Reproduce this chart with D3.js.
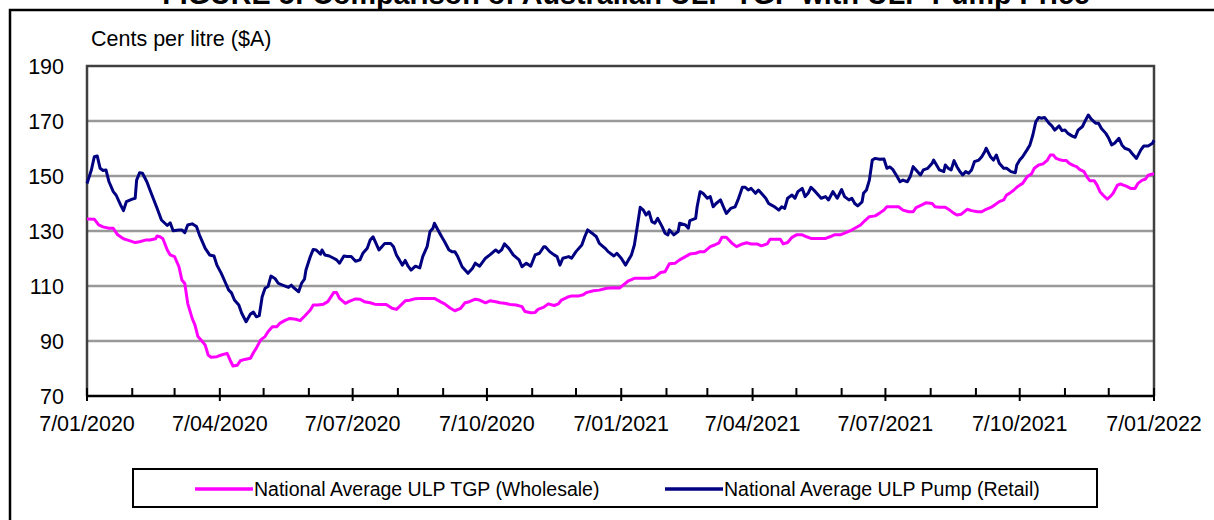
<!DOCTYPE html>
<html><head><meta charset="utf-8">
<script src="https://cdn.jsdelivr.net/npm/d3@7"></script>
<style>
body{margin:0;background:#fff;}
svg{display:block;font-family:Arial,"Liberation Sans",sans-serif;}
</style>
</head><body>
<svg id="chart" width="1214" height="520"></svg>
<script>
// ---------------- DATA ----------------
const titleText = "FIGURE 5: Comparison of Australian ULP TGP with ULP Pump Price";
const yAxisTitle = "Cents per litre ($A)";
const startDate = "2020-01-07";
const endDate = "2022-01-07";
const yTicks = [70, 90, 110, 130, 150, 170, 190];
const xTickLabels = ["7/01/2020","7/04/2020","7/07/2020","7/10/2020","7/01/2021","7/04/2021","7/07/2021","7/10/2021","7/01/2022"];
const seriesNames = ["National Average ULP TGP (Wholesale)", "National Average ULP Pump (Retail)"];

// day offsets from start date, and values (cents per litre)
const pumpDays = [
0,3,5,7,9,11,13,15,18,20,
23,25,27,31,33,34,36,38,41,44,
48,51,55,57,59,63,65,67,69,72,
75,77,81,84,87,89,92,95,97,99,
101,104,106,109,112,114,116,118,120,122,
124,126,129,131,134,138,140,142,145,147,
149,150,153,155,157,160,161,163,166,169,
171,173,176,178,181,184,187,189,192,194,
196,197,200,202,204,208,210,212,214,216,
218,220,222,225,228,230,233,235,237,238,
241,243,245,248,250,252,254,257,259,261,
264,266,269,273,276,280,282,284,286,289,
292,296,298,301,304,307,310,313,314,317,
320,322,324,326,330,332,335,339,341,343,
346,349,351,355,357,361,363,366,369,371,
373,375,377,379,381,383,385,387,389,391,
394,396,398,399,402,405,406,410,412,413,
417,418,420,422,425,427,429,431,434,436,
438,441,444,446,449,451,453,455,458,460,
462,465,467,469,471,474,476,478,480,483,
485,487,490,492,494,496,499,501,503,506,
508,511,514,517,519,522,524,526,528,531,
532,534,536,538,540,543,546,548,550,552,
555,557,559,562,564,566,568,571,573,576,
579,580,582,584,587,588,590,592,594,596,
598,600,602,604,606,608,611,613,615,616,
619,621,623,625,628,630,633,636,637,639,
641,644,646,648,650,652,654,656,659,661,
663,666,668,670,672,675,677,679,682,684,
686,688,691,693,695,698,700,702,704,707,
709,711,714,716,719,722,724,727,730,731];
const pumpValues = [
147.3,152.2,157.0,157.3,152.8,152.0,152.2,148.0,144.3,143.0,
139.5,137.4,140.7,141.6,141.9,148.5,151.2,151.0,147.9,143.7,
138.3,134.0,132.0,133.0,130.1,130.4,130.4,129.4,132.2,132.6,
131.6,128.6,123.7,121.3,120.9,117.6,114.6,111.0,108.6,107.5,
104.9,103.1,100.1,97.0,99.8,100.5,98.8,99.2,106.1,109.2,
109.8,113.6,112.6,111.0,110.3,109.5,110.3,109.2,107.9,111.0,
112.5,115.8,120.7,123.3,123.1,121.6,123.1,121.3,120.9,120.1,
119.5,118.3,120.9,120.7,120.7,119.0,119.5,121.9,123.7,126.7,
127.9,126.7,123.1,124.3,125.5,125.5,124.3,121.3,119.5,117.6,
119.3,117.2,115.8,117.2,116.6,120.7,124.3,129.8,131.0,132.8,
129.8,127.9,126.1,123.1,122.5,122.5,120.7,117.0,115.8,114.6,
116.4,118.3,117.2,120.1,121.3,123.1,122.2,123.1,125.3,123.7,
121.3,119.5,117.0,118.3,117.2,121.3,121.9,124.3,124.3,122.5,
121.3,120.7,117.6,120.1,120.7,120.1,122.5,124.9,127.9,130.4,
129.2,127.9,125.5,123.7,122.5,120.9,121.9,120.1,117.6,119.5,
121.3,124.9,131.6,138.6,137.7,135.8,137.0,133.4,132.8,134.6,
131.6,129.2,128.6,130.4,128.6,129.8,132.8,132.2,131.0,133.8,
134.6,138.8,144.3,143.7,141.9,142.5,138.8,140.0,141.3,138.8,
136.4,138.2,138.8,141.3,145.9,145.9,144.9,145.5,143.7,144.9,
143.7,141.9,140.0,139.4,138.8,137.6,138.8,138.2,141.9,143.1,
141.9,144.3,145.5,142.5,143.7,145.9,144.3,143.1,141.9,142.5,
141.3,144.3,141.9,145.1,142.5,141.3,141.9,140.0,139.1,140.6,
143.7,144.9,148.5,155.8,156.4,156.1,156.2,152.8,153.3,152.4,
149.8,147.9,148.5,147.9,149.8,153.4,152.2,150.4,152.2,152.8,
154.6,155.8,154.0,152.2,151.6,154.0,152.8,152.2,155.6,153.4,
151.6,150.4,151.6,151.0,152.2,155.2,155.8,157.0,158.8,160.1,
157.0,155.8,157.6,154.6,152.8,152.8,151.6,151.2,154.0,155.8,
157.0,159.5,161.3,164.9,169.7,171.3,171.0,171.3,169.2,168.2,
166.7,168.2,166.5,166.7,165.5,164.5,164.1,166.7,168.0,170.2,
172.2,170.7,169.2,169.2,167.3,165.5,163.7,161.3,161.9,163.7,
161.3,160.1,159.5,158.2,156.4,159.5,160.9,160.9,161.9,163.0];

const tgpDays = [
0,5,8,11,15,18,21,25,28,
33,36,40,43,47,48,50,52,55,57,
60,63,65,67,69,72,74,76,79,81,
83,85,89,92,96,98,100,103,105,108,
112,114,116,119,122,124,127,130,132,136,
139,143,146,149,153,155,158,162,165,169,
171,173,177,180,184,187,190,194,197,201,
205,209,212,214,218,221,225,229,234,238,
242,245,249,252,256,259,262,266,269,273,
276,280,283,286,290,294,298,300,304,307,
309,313,316,320,323,325,329,332,337,340,
342,347,351,356,361,365,371,375,380,385,
389,393,396,399,403,406,410,413,417,420,
423,427,430,433,435,438,442,445,449,452,
455,459,462,466,468,471,475,477,480,483,
486,490,493,496,501,506,509,512,516,519,
523,526,530,533,536,540,543,546,548,552,
556,559,563,566,568,572,575,579,581,584,
588,591,594,596,599,603,606,610,613,616,
620,622,625,628,630,632,635,637,639,641,
644,647,649,652,655,658,660,662,664,667,
669,671,673,676,678,680,683,685,687,690,
692,694,696,699,701,703,706,708,710,712,
715,718,720,723,725,727,730,731];
const tgpValues = [
134.4,134.3,132.2,131.5,131.0,131.0,128.6,127.2,126.7,
125.8,126.1,126.7,126.7,127.2,128.2,127.9,127.2,123.1,121.3,
120.7,117.0,112.2,110.9,103.7,98.3,95.8,91.6,89.8,88.5,
84.9,84.1,84.3,84.9,85.5,83.1,80.9,81.2,82.8,83.3,
83.7,85.7,87.4,90.4,91.6,93.4,95.2,95.2,96.4,97.6,
98.2,97.9,97.4,99.0,101.3,103.1,103.1,103.4,104.3,107.6,
107.6,105.5,103.7,104.5,105.3,105.2,104.3,103.9,103.4,103.3,
103.3,101.9,101.5,102.5,104.6,104.8,105.4,105.5,105.5,105.5,
104.3,103.5,101.9,101.0,101.9,103.9,104.3,105.2,104.9,103.9,
104.6,104.3,103.9,103.7,103.3,103.1,102.5,100.7,100.3,100.4,
101.5,102.3,103.5,102.9,103.5,104.9,105.9,106.4,106.4,106.8,
107.6,108.3,108.5,109.2,109.4,109.3,111.9,112.8,112.8,112.8,
113.2,114.9,115.2,118.1,118.3,119.5,120.7,121.6,121.9,122.5,
122.5,124.3,124.9,125.7,127.7,127.7,125.5,124.3,125.3,125.7,
125.3,125.3,124.6,125.3,127.0,127.0,127.0,125.3,125.8,127.7,
128.6,128.6,127.9,127.3,127.3,127.3,127.9,128.6,128.6,129.2,
130.1,131.0,132.2,133.8,135.2,135.5,136.5,137.6,138.8,138.8,
138.8,137.6,137.0,137.0,138.5,139.5,140.3,140.0,138.8,138.6,
138.6,137.6,136.4,135.8,136.1,137.9,137.4,137.0,137.0,137.9,
138.8,139.5,140.7,141.3,143.1,143.7,144.9,145.9,146.7,147.3,
149.7,150.7,152.8,154.0,154.4,155.8,157.6,157.6,156.4,155.8,
155.6,155.6,154.6,153.8,153.4,152.4,151.6,149.7,148.3,148.3,
146.7,144.3,143.1,141.6,142.5,143.7,146.7,147.1,146.7,146.3,
145.5,145.5,147.3,148.5,148.8,150.3,150.7,150.7];

// ---------------- CHART ----------------
const W = 1214, H = 520;
const plot = {left: 87, right: 1154, top: 66, bottom: 396};
const colors = {tgp: "#FF00FF", pump: "#000080"};

const svg = d3.select("#chart");
const parse = d3.timeParse("%Y-%m-%d");
const t0 = parse(startDate), t1 = parse(endDate);

const x = d3.scaleTime().domain([t0, t1]).range([plot.left, plot.right]);
const y = d3.scaleLinear().domain([70, 190]).range([plot.bottom, plot.top]);

// outer frame
svg.append("path")
  .attr("d", `M10,${H+5}V10H${W+5}`)
  .attr("fill", "none").attr("stroke", "#000").attr("stroke-width", 2.5);

// title (partly cut off at top)
const title = svg.append("text")
  .attr("x", 626).attr("y", 4)
  .attr("text-anchor", "middle")
  .attr("font-weight", "bold").attr("font-size", 24)
  .text(titleText);
const tl = title.node().getComputedTextLength();
title.attr("font-size", 24 * 928 / tl);

// y axis title
svg.append("text").attr("x", 91).attr("y", 46)
  .attr("font-size", 21.5).attr("fill", "#000").text(yAxisTitle);

// gridlines
svg.append("g").selectAll("line").data(yTicks.filter(v => v > 70 && v < 190)).join("line")
  .attr("x1", plot.left).attr("x2", plot.right)
  .attr("y1", d => y(d)).attr("y2", d => y(d))
  .attr("stroke", "#999").attr("stroke-width", 2.5);

// plot border (top/left/right)
svg.append("path")
  .attr("d", `M${plot.left},${plot.bottom}V${y(190)}H${plot.right}V${plot.bottom}`)
  .attr("fill", "none").attr("stroke", "#404040").attr("stroke-width", 2.5);

// y tick labels
svg.append("g").selectAll("text").data(yTicks).join("text")
  .attr("x", 64).attr("y", d => y(d)).attr("dy", "0.36em")
  .attr("text-anchor", "end").attr("font-size", 21.5)
  .text(d => d);

// x axis (monthly ticks, quarterly labels)
const months = d3.range(0, 25).map(i => d3.timeMonth.offset(t0, i));
const fmt = d3.timeFormat("%-d/%m/%Y");
const xAxisG = svg.append("g");
xAxisG.selectAll("line").data(months).join("line")
  .attr("x1", d => x(d)).attr("x2", d => x(d))
  .attr("y1", plot.bottom - 8)
  .attr("y2", (d, i) => i % 3 === 0 ? plot.bottom + 5 : plot.bottom)
  .attr("stroke", "#000").attr("stroke-width", 2);
xAxisG.append("line")
  .attr("x1", x(t0)).attr("x2", x(t1))
  .attr("y1", plot.bottom).attr("y2", plot.bottom)
  .attr("stroke", "#000").attr("stroke-width", 2.5);
xAxisG.selectAll("text").data(months.filter((d, i) => i % 3 === 0)).join("text")
  .attr("x", d => x(d)).attr("y", 431)
  .attr("text-anchor", "middle").attr("font-size", 21.5)
  .text(d => xTickLabels.includes(fmt(d)) ? fmt(d) : "");

// lines
const line = d3.line()
  .x(d => x(d3.timeDay.offset(t0, d[0])))
  .y(d => y(d[1]));

const tgpData = tgpDays.map((d, i) => [d, tgpValues[i]]);
const pumpData = pumpDays.map((d, i) => [d, pumpValues[i]]);

svg.append("path").datum(tgpData).attr("d", line)
  .attr("fill", "none").attr("stroke", colors.tgp).attr("stroke-width", 3)
  .attr("stroke-linejoin", "round");
svg.append("path").datum(pumpData).attr("d", line)
  .attr("fill", "none").attr("stroke", colors.pump).attr("stroke-width", 3)
  .attr("stroke-linejoin", "round");

// legend
const lg = svg.append("g");
lg.append("rect").attr("x", 133).attr("y", 469).attr("width", 964).attr("height", 38)
  .attr("fill", "#fff").attr("stroke", "#000").attr("stroke-width", 2);
const legendItems = [
  {name: seriesNames[0], color: colors.tgp, x0: 195},
  {name: seriesNames[1], color: colors.pump, x0: 665}
];
legendItems.forEach(it => {
  lg.append("line").attr("x1", it.x0).attr("x2", it.x0 + 58)
    .attr("y1", 489).attr("y2", 489)
    .attr("stroke", it.color).attr("stroke-width", 3.5);
  lg.append("text").attr("x", it.x0 + 59).attr("y", 496)
    .attr("font-size", 19.5).text(it.name);
});
</script>
</body></html>
